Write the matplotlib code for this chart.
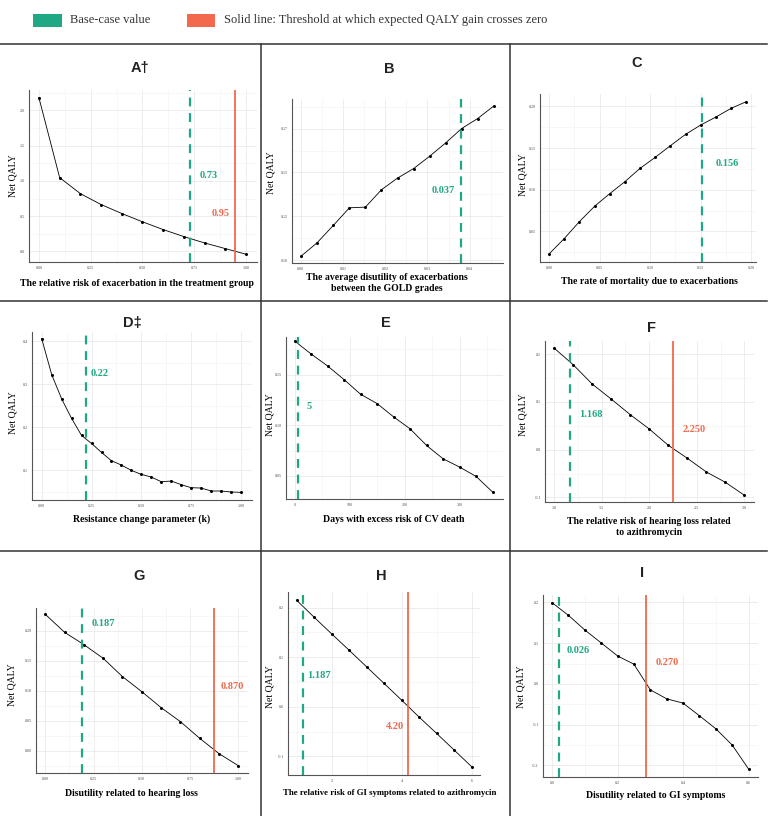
import matplotlib
matplotlib.use("Agg")
import matplotlib.pyplot as plt
from matplotlib.lines import Line2D
from matplotlib.patches import Rectangle
from matplotlib.ticker import AutoMinorLocator

W, H = 775, 816
GREEN = "#1fa884"
RED = "#f2694d"
SERIF = ["Liberation Serif", "DejaVu Serif"]
SANS = ["Liberation Sans", "DejaVu Sans"]

# ---- data ----
a_x = [0.0, 0.1, 0.2, 0.3, 0.4, 0.5, 0.6, 0.7, 0.8, 0.9, 1.0]
a_y = [2.18, 1.047, 0.82, 0.665, 0.538, 0.42, 0.31, 0.21, 0.12, 0.04, -0.04]

b_x = [0.0, 0.0038, 0.0077, 0.0115, 0.0153, 0.0191, 0.0229, 0.0267, 0.0305, 0.0343, 0.0381, 0.0419, 0.0457]
b_y = [0.1023, 0.1099, 0.1199, 0.1299, 0.1303, 0.1402, 0.1468, 0.1522, 0.1592, 0.1668, 0.175, 0.1807, 0.1878]

c_x = [0.0, 0.015, 0.03, 0.045, 0.06, 0.075, 0.09, 0.105, 0.12, 0.135, 0.15, 0.165, 0.18, 0.195]
c_y = [0.0228, 0.0412, 0.0616, 0.080, 0.0952, 0.1096, 0.1256, 0.1388, 0.1528, 0.1664, 0.1776, 0.1872, 0.1976, 0.2056]

d_x = [0.0, 0.05, 0.1, 0.15, 0.2, 0.25, 0.3, 0.35, 0.4, 0.45, 0.5, 0.55, 0.6, 0.65, 0.7, 0.75, 0.8, 0.85, 0.9, 0.95, 1.0]
d_y = [0.4055, 0.322, 0.2655, 0.220, 0.1804, 0.1619, 0.141, 0.1217, 0.1116, 0.0992, 0.0899, 0.0838,
       0.0729, 0.0745, 0.066, 0.059, 0.0582, 0.0513, 0.0513, 0.049, 0.0482]

e_x = [0, 30, 60, 90, 120, 150, 180, 210, 240, 270, 300, 330, 360]
e_y = [0.183, 0.1702, 0.1584, 0.1449, 0.1305, 0.1213, 0.1082, 0.0964, 0.080, 0.0669, 0.0587, 0.0495, 0.0341]

f_x = [1.0, 1.2, 1.4, 1.6, 1.8, 2.0, 2.2, 2.4, 2.6, 2.8, 3.0]
f_y = [0.2128, 0.178, 0.1375, 0.106, 0.0733, 0.0433, 0.0091, -0.0181, -0.0468, -0.0684, -0.0956]

g_x = [0.0, 0.1, 0.2, 0.3, 0.4, 0.5, 0.6, 0.7, 0.8, 0.9, 1.0]
g_y = [0.2279, 0.1978, 0.1772, 0.1543, 0.1237, 0.0986, 0.0719, 0.0485, 0.0206, -0.005, -0.0251]

h_x = [1.0, 1.5, 2.0, 2.5, 3.0, 3.5, 4.0, 4.5, 5.0, 5.5, 6.0]
h_y = [0.2148, 0.1805, 0.147, 0.114, 0.0805, 0.047, 0.0134, -0.0208, -0.0537, -0.0872, -0.1208]

i_x = [0.0, 0.05, 0.1, 0.15, 0.2, 0.25, 0.3, 0.35, 0.4, 0.45, 0.5, 0.55, 0.6]
i_y = [0.1996, 0.1685, 0.1325, 0.1006, 0.0687, 0.0483, -0.0147, -0.0368, -0.0474, -0.0785, -0.1104, -0.1505, -0.2094]

titles = ["A\u2020", "B", "C", "D\u2021", "E", "F", "G", "H", "I"]
xlabels = [
    "The relative risk of exacerbation in the treatment group",
    "The average disutility of exacerbations\nbetween the GOLD grades",
    "The rate of mortality due to exacerbations",
    "Resistance change parameter (k)",
    "Days with excess risk of CV death",
    "The relative risk of hearing loss related\nto azithromycin",
    "Disutility related to hearing loss",
    "The relative risk of GI symptoms related to azithromycin",
    "Disutility related to GI symptoms",
]

# base case (dashed green) and threshold (solid red) lines
base_vals = [0.73, 0.038, 0.151, 0.22, 6.7, 1.168, 0.189, 1.18, 0.0224]
base_text = ["0.73", "0.037", "0.156", "0.22", "5", "1.168", "0.187", "1.187", "0.026"]
thr_vals = [0.945, None, None, None, None, 2.254, 0.873, 4.18, 0.287]
thr_text = ["0.95", None, None, None, None, "2.250", "0.870", "4.20", "0.270"]

xticks = [
    ([0, 0.25, 0.5, 0.75, 1.0], ["0.00", "0.25", "0.50", "0.75", "1.00"]),
    ([0, 0.01, 0.02, 0.03, 0.04], ["0.00", "0.01", "0.02", "0.03", "0.04"]),
    ([0, 0.05, 0.1, 0.15, 0.2], ["0.00", "0.05", "0.10", "0.15", "0.20"]),
    ([0, 0.25, 0.5, 0.75, 1.0], ["0.00", "0.25", "0.50", "0.75", "1.00"]),
    ([0, 100, 200, 300], ["0", "100", "200", "300"]),
    ([1.0, 1.5, 2.0, 2.5, 3.0], ["1.0", "1.5", "2.0", "2.5", "3.0"]),
    ([0, 0.25, 0.5, 0.75, 1.0], ["0.00", "0.25", "0.50", "0.75", "1.00"]),
    ([2, 4, 6], ["2", "4", "6"]),
    ([0, 0.2, 0.4, 0.6], ["0.0", "0.2", "0.4", "0.6"]),
]
yticks = [
    ([0, 0.5, 1.0, 1.5, 2.0], ["0.0", "0.5", "1.0", "1.5", "2.0"]),
    ([0.1, 0.125, 0.15, 0.175], ["0.10", "0.12", "0.15", "0.17"]),
    ([0.05, 0.1, 0.15, 0.2], ["0.05", "0.10", "0.15", "0.20"]),
    ([0.1, 0.2, 0.3, 0.4], ["0.1", "0.2", "0.3", "0.4"]),
    ([0.05, 0.1, 0.15], ["0.05", "0.10", "0.15"]),
    ([-0.1, 0.0, 0.1, 0.2], ["-0.1", "0.0", "0.1", "0.2"]),
    ([0, 0.05, 0.1, 0.15, 0.2], ["0.00", "0.05", "0.10", "0.15", "0.20"]),
    ([-0.1, 0.0, 0.1, 0.2], ["-0.1", "0.0", "0.1", "0.2"]),
    ([-0.2, -0.1, 0.0, 0.1, 0.2], ["-0.2", "-0.1", "0.0", "0.1", "0.2"]),
]

series = [(a_x, a_y), (b_x, b_y), (c_x, c_y), (d_x, d_y), (e_x, e_y),
          (f_x, f_y), (g_x, g_y), (h_x, h_y), (i_x, i_y)]

# ---- layout (pixels) ----
ax_box = [  # left, top, right, bottom
    (29, 90, 257, 262), (292, 99, 503, 263), (540, 94, 756, 262),
    (32, 332, 252, 500), (286, 337, 503, 499), (545, 341, 754, 502),
    (36, 608, 248, 773), (288, 592, 480, 775), (543, 595, 758, 777),
]
lims = [
    ((-0.048, 1.053), (-0.15, 2.29)),
    ((-0.0021, 0.0479), (0.0985, 0.1918)),
    ((-0.0089, 0.2046), (0.0132, 0.2148)),
    ((-0.0487, 1.055), (0.0304, 0.421)),
    ((-15.8, 379), (0.0272, 0.187)),
    ((0.905, 3.10), (-0.1096, 0.2275)),
    ((-0.048, 1.05), (-0.0373, 0.2384)),
    ((0.752, 6.24), (-0.1376, 0.2315)),
    ((-0.0275, 0.6287), (-0.229, 0.2184)),
]
title_pos = [(140, 68), (389, 69), (637, 63), (132, 323), (386, 323), (651, 328),
             (139, 576), (381, 576), (642, 573)]
xlab_pos = [(137, 283), (387, 283), (649, 281), (142, 519), (394, 519), (649, 527),
            (131, 793), (390, 793), (656, 796)]
xlab_size = [7, 7, 7, 7, 7, 7, 7, 6.3, 7]
ylab_pos = [(13, 176), (271, 173), (523, 175), (13, 413), (270, 415), (523, 415),
            (12, 685), (270, 687), (521, 687)]
base_lab = [((0.775, 1.07), "left"), ((0.0364, 0.1396), "right"), ((0.165, 0.131), "left"),
            ((0.245, 0.324), "left"), ((22, 0.118), "left"), ((1.263, 0.073), "left"),
            ((0.241, 0.212), "left"), ((1.305, 0.064), "left"), ((0.0437, 0.081), "left")]
thr_lab = [((0.92, 0.54), "right"), None, None, None, None, ((2.35, 0.042), "left"),
           ((0.909, 0.1075), "left"), ((4.07, -0.039), "right"), ((0.316, 0.053), "left")]


def fx(px):
    return px / W


def fy(py):
    return 1 - py / H


fig = plt.figure(figsize=(W / 100, H / 100), dpi=100)

for k in range(9):
    l, t, r, b = ax_box[k]
    ax = fig.add_axes([fx(l), fy(b), (r - l) / W, (b - t) / H])
    x, y = series[k]
    ax.plot(x, y, color="black", lw=0.6, marker="o", ms=1.2, zorder=3)
    ax.set_xlim(*lims[k][0])
    ax.set_ylim(*lims[k][1])
    ax.set_xticks(xticks[k][0], xticks[k][1])
    ax.set_yticks(yticks[k][0], yticks[k][1])
    ax.xaxis.set_minor_locator(AutoMinorLocator(2))
    ax.yaxis.set_minor_locator(AutoMinorLocator(2))
    ax.grid(which="major", color="#e6e6e6", lw=0.5)
    ax.grid(which="minor", color="#f2f2f2", lw=0.4)
    ax.set_axisbelow(True)
    ax.tick_params(which="both", length=0, pad=3, labelsize=3, labelcolor="#4d4d4d")
    for lab in ax.get_xticklabels() + ax.get_yticklabels():
        lab.set_family(SERIF)
    for s in ["top", "right"]:
        ax.spines[s].set_visible(False)
    for s in ["left", "bottom"]:
        ax.spines[s].set_color("#555555")
        ax.spines[s].set_linewidth(0.8)

    ax.axvline(base_vals[k], color=GREEN, lw=1.6, ls=(0, (4, 3)), zorder=4)
    (tx, ty), ha = base_lab[k]
    ax.text(tx, ty, base_text[k], color=GREEN, fontsize=7.5, fontweight="bold",
            family=SERIF, ha=ha, va="center")
    if thr_vals[k] is not None:
        ax.axvline(thr_vals[k], color=RED, lw=1.3, zorder=4)
        (tx, ty), ha = thr_lab[k]
        ax.text(tx, ty, thr_text[k], color=RED, fontsize=7.5, fontweight="bold",
                family=SERIF, ha=ha, va="center")

    fig.text(fx(title_pos[k][0]), fy(title_pos[k][1]), titles[k], ha="center", va="center",
             fontsize=10.5, fontweight="bold", family=SANS, color="#222222")
    fig.text(fx(xlab_pos[k][0]), fy(xlab_pos[k][1]), xlabels[k], ha="center", va="center",
             fontsize=xlab_size[k], fontweight="bold", family=SERIF, linespacing=1.15)
    fig.text(fx(ylab_pos[k][0]), fy(ylab_pos[k][1]), "Net QALY", ha="center", va="center",
             rotation=90, fontsize=7, family=SERIF)

# panel borders
for py in [44, 301, 551]:
    fig.add_artist(Line2D([fx(0), fx(767)], [fy(py), fy(py)], color="#333333", lw=1.1))
for px in [261, 510]:
    fig.add_artist(Line2D([fx(px), fx(px)], [fy(44), fy(816)], color="#333333", lw=1.1))

# legend
fig.add_artist(Rectangle((fx(33), fy(27)), 29 / W, 13 / H, transform=fig.transFigure,
                         color=GREEN, lw=0))
fig.text(fx(70), fy(20), "Base-case value", ha="left", va="center", fontsize=9,
         family=SERIF, color="#333333")
fig.add_artist(Rectangle((fx(187), fy(27)), 28 / W, 13 / H, transform=fig.transFigure,
                         color=RED, lw=0))
fig.text(fx(224), fy(20), "Solid line: Threshold at which expected QALY gain crosses zero",
         ha="left", va="center", fontsize=9, family=SERIF, color="#333333")

fig.savefig("out.png", dpi=100)
